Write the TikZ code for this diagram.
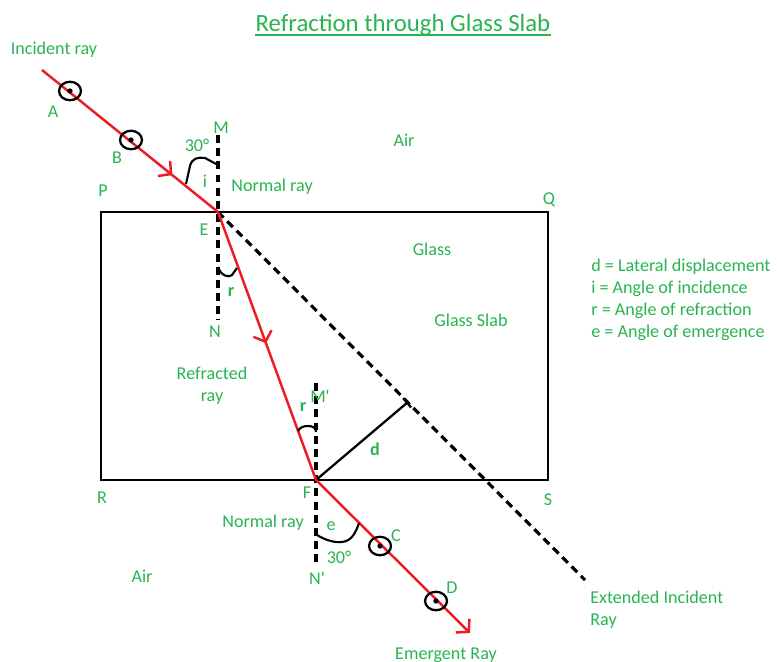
\documentclass[tikz,border=0pt]{standalone}
\usepackage{fontspec}
\setmainfont{Carlito}
\usepackage{xcolor}
\usetikzlibrary{arrows.meta,shapes.geometric,decorations.markings}
\definecolor{rayred}{RGB}{237,28,36}
\definecolor{lblgreen}{RGB}{40,180,80}

\tikzset{
  lbl/.style={text=lblgreen,font=\fontsize{10.3}{12.4}\selectfont,inner sep=0pt},
  ray/.style={rayred,line width=1.4pt},
  barb/.style={postaction={decorate,decoration={markings,
      mark=at position #1 with {\arrow{Straight Barb[length=5pt,width=11pt,line width=1.4pt]}}}}},
  normal/.style={black,line width=1.8pt,dash pattern=on 4.5pt off 3pt},
  pinhole/.style={ellipse,draw,line width=1.3pt,minimum width=12.5pt,minimum height=10.5pt,inner sep=0pt,
      path picture={\fill (path picture bounding box.center) circle (1.5pt);}},
  anglemark/.style={black,line width=1.2pt}
}

\begin{document}
\begin{tikzpicture}[x={(0.02cm,0)},y={(0,-0.02cm)}]
\useasboundingbox (0,0) rectangle (777,662);

% title
\node[lbl,font=\fontsize{14.1}{16}\selectfont] (title) at (403,25) {Refraction through Glass Slab};
\draw[lblgreen,line width=1.2pt] ([yshift=-2pt]title.base west) -- ([yshift=-2pt]title.base east);

% glass slab
\coordinate (P) at (101,212);
\coordinate (S) at (548,480);
\draw[line width=1.3pt] (P) rectangle (S);

% points on the rays
\coordinate (start) at (42,70);
\coordinate (E) at (218,212);
\coordinate (F) at (316,480);
\coordinate (emEnd) at (470,633);
\coordinate (extEnd) at (585,580);
\coordinate (dFoot) at (408,402);

% normals
\coordinate (M) at (218,135);
\coordinate (N) at (218,320);
\coordinate (Mp) at (316,383);
\coordinate (Np) at (316,566);
\draw[normal] (M) -- (N);
\draw[normal] (Mp) -- (Np);

% extended incident ray and lateral displacement
\draw[normal] (E) -- (extEnd);
\draw[line width=1.3pt,-{Bar[width=7pt,line width=1.3pt]}] (F) -- (dFoot);

% rays
\draw[ray,barb=0.74] (start) -- (E);
\draw[ray,barb=0.49] (E) -- (F);
\draw[ray,-{Straight Barb[length=5pt,width=11pt,line width=1.4pt]}] (F) -- (emEnd);

% angles
\draw[anglemark] (186,184) -- (190,166) .. controls (192,158) and (198,157) .. (205,158) -- (218,165);
\draw[anglemark] (218,267) .. controls (221,276) and (229,278) .. (232,275) -- (237,268);
\draw[anglemark] (298,431) .. controls (300,427) and (304,426) .. (308,426) .. controls (313,426) and (316,428) .. (316,432);
\draw[anglemark] (317,535) .. controls (325,540) and (335,543) .. (342,542) .. controls (352,541) and (356,532) .. (359,523);

% pins
\node[pinhole] (pinA) at (70,91) {};
\node[pinhole] (pinB) at (131,140) {};
\node[pinhole] (pinC) at (380,546) {};
\node[pinhole] (pinD) at (436,601) {};

% labels
\node[lbl] (lIncident) at (54,50) {Incident ray};
\node[lbl] (lA) at (53,112) {A};
\node[lbl] (lB) at (117,158) {B};
\node[lbl] (lP) at (103,191) {P};
\node[lbl] (lQ) at (549,200) {Q};
\node[lbl] (lM) at (221,128) {M};
\node[lbl] (l30a) at (197,145) {30°};
\node[lbl] (li) at (205,181) {i};
\node[lbl] (lNormal) at (272,187) {Normal ray};
\node[lbl] (lAir) at (404,140) {Air};
\node[lbl] (lE) at (204,230) {E};
\node[lbl] (lGlass) at (432,249) {Glass};
\node[lbl] (lSlab) at (471,320) {Glass Slab};
\node[lbl,font=\fontsize{10.3}{12.4}\selectfont\bfseries] (lr) at (231,292) {r};
\node[lbl] (lN) at (215,332) {N};
\node[lbl,align=center] (lRefr) at (212,386) {Refracted\\ray};
\node[lbl] (lMp) at (320,396) {M\textquotesingle};
\node[lbl,font=\fontsize{10.3}{12.4}\selectfont\bfseries] (lr2) at (303,407) {r};
\node[lbl,font=\fontsize{10.3}{12.4}\selectfont\bfseries] (ld) at (375,449) {d};
\node[lbl] (lR) at (102,498) {R};
\node[lbl] (lF) at (307,493) {F};
\node[lbl] (lS) at (548,500) {S};
\node[lbl] (lNormal2) at (263,523) {Normal ray};
\node[lbl] (le) at (331,526) {e};
\node[lbl] (l30b) at (339,557) {30°};
\node[lbl] (lNp) at (317,578) {N\textquotesingle};
\node[lbl] (lAir2) at (142,576) {Air};
\node[lbl] (lC) at (396,536) {C};
\node[lbl] (lD) at (452,588) {D};
\node[lbl,align=left,anchor=north west] (lExt) at (590,591) {Extended Incident\\Ray};
\node[lbl] (lEmerg) at (446,655) {Emergent Ray};
\node[lbl,align=left,anchor=north west] (legend) at (591,259)
  {d = Lateral displacement\\ i = Angle of incidence\\ r = Angle of refraction\\ e = Angle of emergence};
\end{tikzpicture}
\end{document}
